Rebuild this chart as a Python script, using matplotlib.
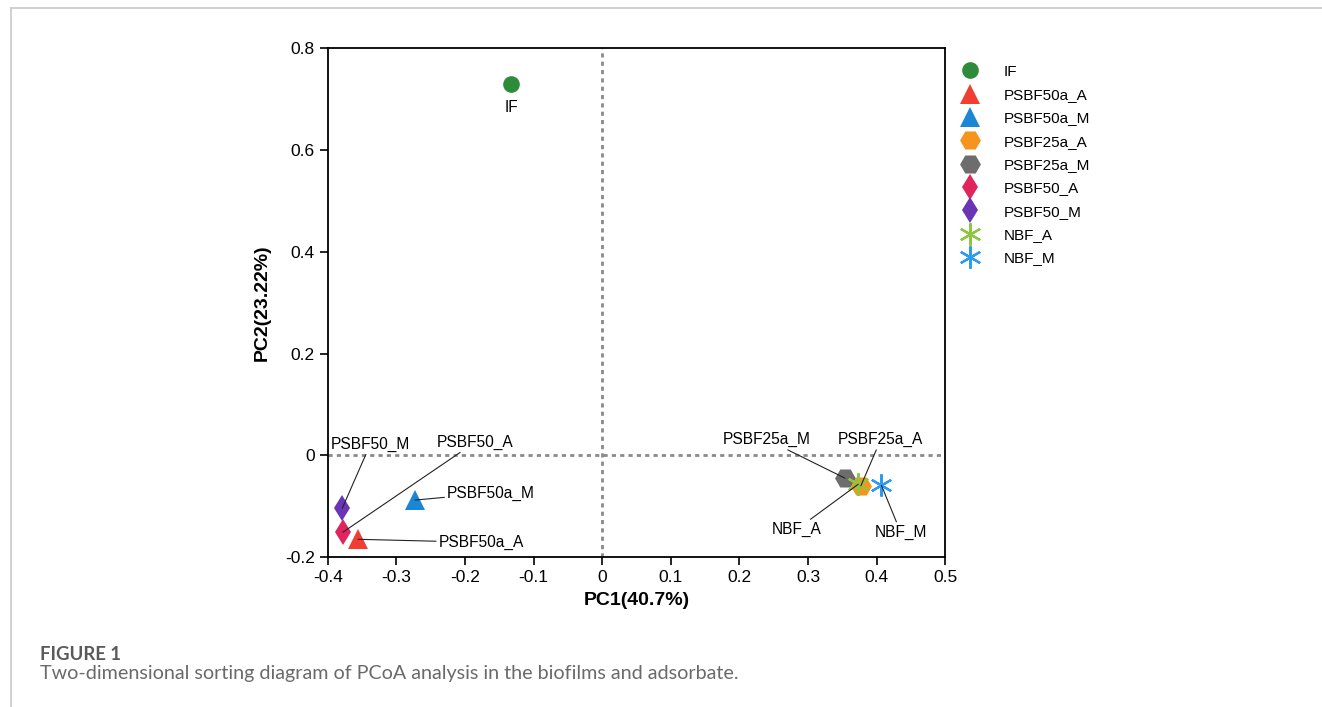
import matplotlib.pyplot as plt
from matplotlib.lines import Line2D
from matplotlib.ticker import FuncFormatter

plt.rcParams['font.family'] = ['Liberation Sans', 'DejaVu Sans']

# PCoA scores
samples = ['IF', 'PSBF50a_A', 'PSBF50a_M', 'PSBF25a_A', 'PSBF25a_M',
           'PSBF50_A', 'PSBF50_M', 'NBF_A', 'NBF_M']
pc1 = [-0.133, -0.356, -0.273, 0.377, 0.354, -0.378, -0.379, 0.373, 0.407]
pc2 = [0.730, -0.165, -0.088, -0.060, -0.045, -0.151, -0.104, -0.057, -0.059]

colors = ['#2E8B3A', '#F03E32', '#1B87D4', '#F7941D', '#6D6D6D',
          '#E0245E', '#6A35B5', '#8DC63F', '#2D9BF0']
markers = ['o', '^', '^', 'H', 'H', 'd', 'd', (6, 2, 0), (6, 2, 0)]
sizes = [12, 14, 14, 15, 15, 13, 13, 16, 16]

# label text positions (data coords) for the annotations
label_pos = {
    'PSBF50_M': (-0.338, 0.022),
    'PSBF50_A': (-0.185, 0.026),
    'PSBF50a_M': (-0.162, -0.074),
    'PSBF50a_A': (-0.176, -0.171),
    'PSBF25a_M': (0.240, 0.031),
    'PSBF25a_A': (0.406, 0.031),
    'NBF_A': (0.283, -0.146),
    'NBF_M': (0.435, -0.151),
}

fig = plt.figure(figsize=(13.22, 7.07), dpi=100)
ax = fig.add_axes([0.248, 0.212, 0.467, 0.720])

ax.axvline(0, color='#8a8a8a', ls=(0, (1.5, 1.5)), lw=2, zorder=0)
ax.axhline(0, color='#8a8a8a', ls=(0, (1.5, 1.5)), lw=2, zorder=0)

draw_order = [0, 1, 2, 4, 3, 5, 6, 7, 8]
for i in draw_order:
    mew = 1.6 if isinstance(markers[i], tuple) else 0
    ax.plot(pc1[i], pc2[i], ls='none', marker=markers[i], ms=sizes[i],
            color=colors[i], mec=colors[i], mew=mew, zorder=3)

ax.text(pc1[0], pc2[0] - 0.047, 'IF', ha='center', va='center', fontsize=11.2)
for i, name in enumerate(samples):
    if name not in label_pos:
        continue
    ax.annotate(name, xy=(pc1[i], pc2[i]), xytext=label_pos[name],
                ha='center', va='center', fontsize=11.2, zorder=4,
                arrowprops=dict(arrowstyle='-', color='#222222', lw=0.8,
                                shrinkA=0, shrinkB=0))

ax.set_xlim(-0.4, 0.5)
ax.set_ylim(-0.2, 0.8)
ax.set_xticks([-0.4, -0.3, -0.2, -0.1, 0, 0.1, 0.2, 0.3, 0.4, 0.5])
ax.set_yticks([-0.2, 0, 0.2, 0.4, 0.6, 0.8])
fmt = FuncFormatter(lambda v, p: '0' if abs(v) < 1e-9 else f'{v:g}')
ax.xaxis.set_major_formatter(fmt)
ax.yaxis.set_major_formatter(fmt)
ax.tick_params(labelsize=12.5, length=6, width=1.2, direction='out')
for s in ax.spines.values():
    s.set_linewidth(1.3)

ax.set_xlabel('PC1(40.7%)', fontsize=14, fontweight='bold', labelpad=5)
ax.set_ylabel('PC2(23.22%)', fontsize=14, fontweight='bold', labelpad=10)

handles = [Line2D([], [], ls='none', marker=markers[i], ms=sizes[i],
                  color=colors[i], mec=colors[i],
                  mew=1.6 if isinstance(markers[i], tuple) else 0)
           for i in range(len(samples))]
fig.legend(handles, samples, loc='upper left', bbox_to_anchor=(0.715, 0.928),
           frameon=False, fontsize=11, labelspacing=0.61, handletextpad=1.4,
           handlelength=1.5)

# page frame and caption
fig.add_artist(Line2D([0.008, 1.0], [0.989, 0.989], color='#c8c8c8', lw=1.2,
                      transform=fig.transFigure))
fig.add_artist(Line2D([0.008, 0.008], [0.0, 0.989], color='#c8c8c8', lw=1.2,
                      transform=fig.transFigure))
fig.text(0.030, 0.074, 'FIGURE 1', fontsize=13.3, color='#5a5a5a',
         family=['Lato', 'DejaVu Sans'], fontweight='bold', va='center')
fig.text(0.030, 0.048, 'Two-dimensional sorting diagram of PCoA analysis in the biofilms and adsorbate.',
         fontsize=14.2, color='#6a6a6a', family=['Lato', 'DejaVu Sans'], va='center')

fig.savefig('out.png', dpi=100)
